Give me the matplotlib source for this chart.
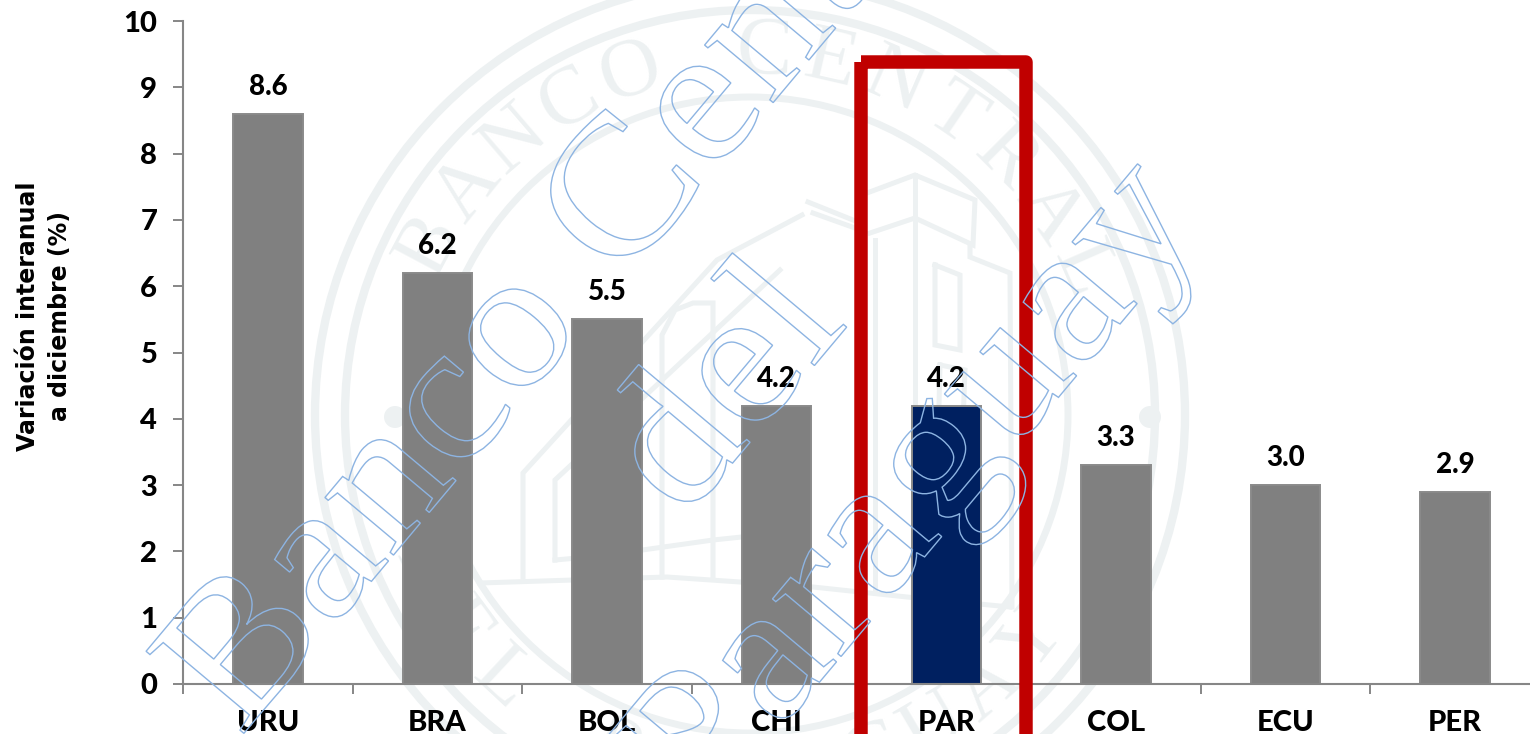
import numpy as np
import matplotlib
matplotlib.use('Agg')
import matplotlib.pyplot as plt
from matplotlib.patches import Circle, PathPatch, Rectangle
from matplotlib.textpath import TextPath
from matplotlib.font_manager import FontProperties
from matplotlib.transforms import Affine2D

countries = ['URU', 'BRA', 'BOL', 'CHI', 'PAR', 'COL', 'ECU', 'PER']
values = [8.6, 6.2, 5.5, 4.2, 4.2, 3.3, 3.0, 2.9]
bar_colors = ['#808080', '#808080', '#808080', '#808080', '#002060', '#808080', '#808080', '#808080']

W, H = 1530, 734
SEAL = '#edf1f2'
WM = '#8db4e2'

fig = plt.figure(figsize=(W / 100, H / 100), dpi=100, facecolor='white')

# seal in the background, in pixel coordinates
bg = fig.add_axes([0, 0, 1, 1], zorder=0)
bg.set_xlim(0, W)
bg.set_ylim(H, 0)
bg.axis('off')
cx, cy = 750, 415
for r, lw in [(405, 6), (435, 6), (318, 5)]:
    bg.add_patch(Circle((cx, cy), r, fc='none', ec=SEAL, lw=lw))
for x in (395, 1150):
    bg.add_patch(Circle((x, 417), 11, fc=SEAL, ec='none'))


def arc_text(s, start, step, radius, top=True):
    for i, ch in enumerate(s):
        a = np.radians(start + i * step)
        x = cx + radius * np.cos(a)
        y = cy - radius * np.sin(a)
        rot = np.degrees(a) - 90 if top else np.degrees(a) + 90
        bg.text(x, y, ch, color=SEAL, fontsize=60, family='Liberation Serif',
                rotation=rot, rotation_mode='anchor', ha='center', va='center')


arc_text('BANCO CENTRAL', 152, -10.7, 362)
arc_text('DEL PARAGUAY', 206, 10.5, 362, top=False)

building = [
    [(523, 577), (523, 473), (717, 260), (802, 215)],
    [(555, 560), (555, 480), (780, 270)],
    [(555, 560), (600, 556), (713, 540), (780, 533)],
    [(480, 583), (667, 577), (813, 587), (907, 597), (1010, 607)],
    [(662, 577), (662, 335), (675, 310), (693, 303), (713, 303), (713, 577)],
    [(808, 202), (853, 220)],
    [(813, 213), (855, 228)],
    [(867, 193), (915, 175), (975, 200), (973, 245), (915, 218), (870, 233)],
    [(915, 175), (915, 590)],
    [(875, 240), (875, 590)],
    [(970, 245), (970, 257), (1010, 273), (1012, 607)],
    [(935, 265), (960, 275), (960, 350), (935, 345), (935, 265)],
    [(940, 365), (965, 370), (962, 450), (938, 445), (940, 365)],
]
for pts in building:
    xs, ys = zip(*pts)
    bg.plot(xs, ys, color=SEAL, lw=3.6, solid_joinstyle='miter')

# the chart itself, its right end runs past the picture
ax = fig.add_axes([183 / W, (H - 684) / H, 1357 / W, 663 / H], zorder=1)
ax.patch.set_alpha(0)
ax.bar(range(len(values)), values, width=0.41, color=bar_colors, edgecolor='#8a8a8a', linewidth=1.4)
for i, v in enumerate(values):
    ax.annotate(f'{v:.1f}', (i, v), xytext=(0, 10), textcoords='offset points', ha='center',
                va='bottom', fontsize=20, fontweight=900, family='Lato', color='black')
ax.set_xlim(-0.5, len(values) - 0.5)
ax.set_ylim(0, 10)
ax.set_yticks(range(11))
ax.set_xticks(range(len(values)))
ax.set_xticklabels(countries, fontsize=21, fontweight=900, family='Lato')
ax.set_xticks(np.arange(-0.5, len(values)), minor=True)
ax.tick_params(axis='x', which='major', length=0, pad=19)
ax.tick_params(axis='x', which='minor', length=7, width=1.4, color='#868686')
ax.tick_params(axis='y', length=7, width=1.4, color='#868686', pad=11.5)
for lab in ax.get_yticklabels():
    lab.set_fontsize(21)
    lab.set_fontweight(900)
    lab.set_family('Lato')
for side in ('top', 'right'):
    ax.spines[side].set_visible(False)
for side in ('left', 'bottom'):
    ax.spines[side].set_color('#868686')
    ax.spines[side].set_linewidth(1.5)
fig.text(44 / W, 1 - 316 / H, 'Variación interanual\na diciembre (%)', rotation=90, ha='center',
         va='center', fontsize=17, fontweight='bold', family='DejaVu Sans', linespacing=1.45)

# red frame and watermark on top
top = fig.add_axes([0, 0, 1, 1], zorder=2)
top.set_xlim(0, W)
top.set_ylim(H, 0)
top.axis('off')
top.patch.set_alpha(0)
top.add_patch(Rectangle((861, 62), 165, 760, fc='none', ec='#c00000', lw=9.7, joinstyle='round', snap=False))

fp = FontProperties(family='Liberation Serif')
for s, x0, y0 in [('Banco Central', 240, 738), ('del', 684, 521), ('Paraguay', 703, 821)]:
    path = TextPath((0, 0), s, size=195, prop=fp)
    tr = Affine2D().scale(1.08, -1).rotate_deg(-50).translate(x0, y0)
    top.add_patch(PathPatch(path, transform=tr + top.transData, fc='none', ec=WM, lw=1.0))

fig.savefig('out.png', dpi=100)
